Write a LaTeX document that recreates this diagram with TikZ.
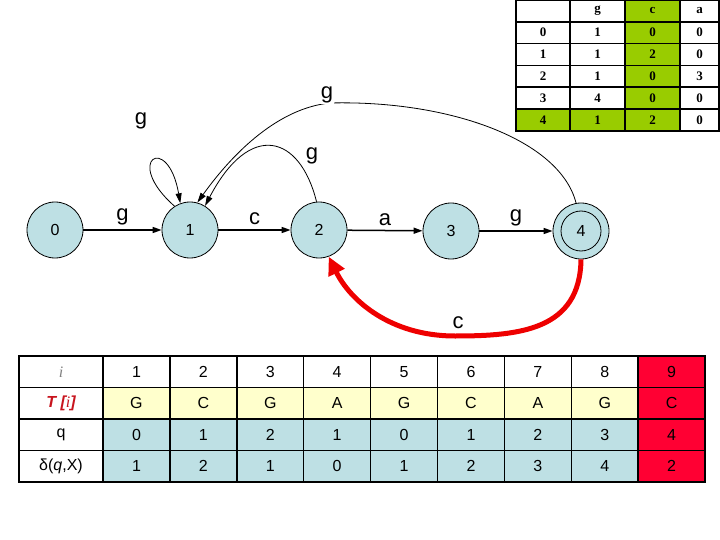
\documentclass[tikz,border=0pt]{standalone}
\usepackage{fontspec}
\setmainfont{Liberation Sans}
\newfontfamily\tabserif{Liberation Serif}
\usetikzlibrary{arrows.meta}
\definecolor{stateblue}{RGB}{190,224,228}
\definecolor{tabgreen}{RGB}{153,204,0}
\definecolor{tabyellow}{RGB}{255,255,204}
\definecolor{tabred}{RGB}{255,0,51}
\definecolor{hdred}{RGB}{200,20,30}
\definecolor{arcred}{RGB}{238,0,0}

\begin{document}
\begin{tikzpicture}[x=1pt, y=-1pt,
  every node/.style={font=\fontsize{16}{19}\selectfont},
  state/.style={circle, draw, line width=0.8pt, fill=stateblue, minimum size=56pt, inner sep=0pt},
  edge/.style={line width=1.5pt, -{Triangle[length=9pt,width=6pt]}},
  back/.style={line width=0.8pt, -{Triangle[length=10pt,width=6pt]}},
  fail/.style={draw=arcred, line width=5pt, -{Triangle[length=18pt,width=17pt]}},
  sym/.style={font=\fontsize{22}{26}\selectfont},
  dcell/.style={draw, line width=1.5pt, minimum height=21.8pt, inner sep=0pt,
    font=\tabserif\bfseries\fontsize{13}{15}\selectfont},
  tcell/.style={draw, line width=1.5pt, minimum width=66.9pt, minimum height=31.5pt, inner sep=0pt},
]
\useasboundingbox (0,0) rectangle (720,540);
% States (pixel grid of the slide, y downwards)
\node[state] (s0) at (55,230) {0};
\node[state] (s1) at (190,230) {1};
\node[state] (s2) at (319,230) {2};
\node[state] (s3) at (451,231) {3};
\node[state] (s4) at (581,231) {4};
\draw[line width=0.8pt] (s4.center) circle[radius=20pt];
% Forward edges
\draw[edge] (s0) -- node[sym, above=1pt] (l01) {g} (s1);
\draw[edge] (s1) -- node[sym, above=1pt] (l12) {c} (s2);
\draw[edge] (s2) -- node[sym, above=1pt] (l23) {a} (s3);
\draw[edge] (s3) -- node[sym, above=1pt] (l34) {g} (s4);
% Back edges on g
\draw[back] (s1.123) .. controls (122,160) and (168,132) .. (s1.110);
\node[sym] (l11) at (141,121) {g};
\draw[back] (s2.95) .. controls (300,135) and (250,120) .. (s1.58);
\node[sym] (l21) at (312,156) {g};
\draw[back] (s4.100) .. controls (560,140) and (450,100) .. (330,103)
  .. controls (280,108) and (235,150) .. (s1.75);
\node[sym, fill=white, inner sep=1pt] (l41) at (327,95) {g};
% Back edge on c
\draw[fail] (s4.south) .. controls (580,330) and (520,336) .. (455,336)
  .. controls (390,336) and (350,300) .. (s2.-70);
\node[sym] (l42) at (458,323) {c};
% Transition table
\foreach \r/\q/\vg/\vc/\va in {0/{}/g/c/a, 1/0/1/0/0, 2/1/1/2/0, 3/2/1/0/3, 4/3/4/0/0, 5/4/1/2/0} {
  \ifnum\r=5 \def\rowfill{tabgreen}\else\def\rowfill{white}\fi
  \node[dcell, fill=\rowfill, minimum width=54pt] (d\r-0) at (543,{10.9+21.8*\r}) {\q};
  \node[dcell, fill=\rowfill, minimum width=55pt] (d\r-1) at (597.5,{10.9+21.8*\r}) {\vg};
  \node[dcell, fill=tabgreen, minimum width=55pt] (d\r-2) at (652.5,{10.9+21.8*\r}) {\vc};
  \node[dcell, fill=white, minimum width=39pt] (d\r-3) at (699.5,{10.9+21.8*\r}) {\va};
}
% Run over the text
\foreach \r/\head/\rowfill/\vals in {
  0/{\tabserif\itshape\color{gray}i}/white/{1,2,3,4,5,6,7,8,9},
  1/{\color{hdred}\bfseries\itshape T [{\tabserif\mdseries i}]}/tabyellow/{G,C,G,A,G,C,A,G,C},
  2/q/stateblue/{0,1,2,1,0,1,2,3,4},
  3/{δ(\textit{q},X)}/stateblue/{1,2,1,0,1,2,3,4,2}} {
  \node[tcell, fill=white, minimum width=84pt] (t\r-0) at (61,{371.75+31.5*\r}) {\head};
  \foreach \v [count=\k] in \vals {
    \ifnum\k=9 \def\cellfill{tabred}\else\edef\cellfill{\rowfill}\fi
    \node[tcell, fill=\cellfill] (t\r-\k) at ({136.45+66.9*(\k-1)},{371.75+31.5*\r}) {\v};
  }
}
\end{tikzpicture}
\end{document}
